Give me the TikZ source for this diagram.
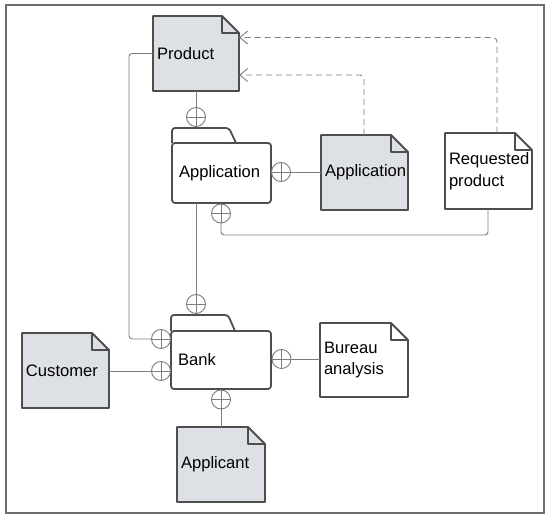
\documentclass[tikz,border=0pt]{standalone}
\usepackage{fontspec}
\setmainfont{Liberation Sans}
\usetikzlibrary{arrows.meta}
\pgfdeclarelayer{background}
\pgfsetlayers{background,main}
\definecolor{docfill}{RGB}{221,224,229}
\definecolor{edgecol}{RGB}{78,78,78}
\definecolor{conncol}{RGB}{125,125,125}
\definecolor{framecol}{RGB}{110,110,110}
\tikzset{
  docline/.style={draw=edgecol, line width=1.8pt, line join=round},
  doctext/.style={inner sep=4pt, outer sep=0pt, align=left, minimum height=75pt, font=\fontsize{16.6}{21.5}\selectfont},
  foldertext/.style={inner sep=7pt, outer sep=0pt, align=left, font=\fontsize{16.6}{21.5}\selectfont},
  port/.style={circle, draw=conncol, line width=0.9pt, minimum size=19pt, inner sep=0pt, outer sep=0pt, fill=white,
    path picture={\draw[conncol, line width=0.8pt] (path picture bounding box.north) -- (path picture bounding box.south)
      (path picture bounding box.west) -- (path picture bounding box.east);}},
  connline/.style={draw=conncol, line width=0.9pt, rounded corners=3pt},
  dashline/.style={draw=conncol, line width=0.9pt, dash pattern=on 6pt off 4pt, rounded corners=4pt,
    -{Straight Barb[length=8pt, width=13pt, line width=0.9pt]}},
}
\newcommand\docshape[2]{%
  \filldraw[docline, fill=#2] (#1.north west) -- ([xshift=-17pt]#1.north east) -- ([yshift=-17pt]#1.north east)
    -- (#1.south east) -- (#1.south west) -- cycle;
  \draw[docline] ([xshift=-17pt]#1.north east) |- ([yshift=-17pt]#1.north east);
}
\newcommand\foldershape[3]{% name, tab height, tab top width
  \filldraw[docline, fill=white, rounded corners=3pt] (#1.north west) -- ++(0,-#2) -- ++(#3,0) -- ++(7,#2);
  \filldraw[docline, fill=white, rounded corners=3pt] (#1.north west) rectangle (#1.south east);
}
\begin{document}
\begin{tikzpicture}[x=1pt, y=-1pt]
\useasboundingbox (0,0) rectangle (550,518);
\draw[framecol, line width=2.2pt] (6,5) rectangle (544,513);

% documents
\node[doctext, text width=78pt] (prod) at (196,53.5) {Product};
\node[doctext, text width=79pt] (appd) at (364.5,172.5) {Application};
\node[doctext, text width=79pt, minimum height=76pt] (req) at (488.5,171) {Requested\\product};
\node[doctext, text width=79pt] (cust) at (65.5,370.5) {Customer};
\node[doctext, text width=80pt, minimum height=74pt] (bur) at (364,360) {Bureau\\analysis};
\node[doctext, text width=80pt] (appl) at (221,464.5) {Applicant};

% folders
\node[foldertext, text width=85pt, minimum height=60pt] (app) at (221.5,173) {Application};
\node[foldertext, text width=86pt, minimum height=58pt] (bank) at (221,360) {Bank};

\begin{pgfonlayer}{background}
\docshape{prod}{docfill}
\docshape{appd}{docfill}
\docshape{req}{white}
\docshape{cust}{docfill}
\docshape{bur}{white}
\docshape{appl}{docfill}
\foldershape{app}{15}{57}
\foldershape{bank}{16}{57}
\end{pgfonlayer}

% ports
\node[port] (c1) at (196,117) {};
\node[port] (c2) at (281,172) {};
\node[port] (c3) at (221,213.5) {};
\node[port] (c4) at (196,304) {};
\node[port] (c5) at (161,339) {};
\node[port] (c6) at (161,371) {};
\node[port] (c7) at (281.5,359) {};
\node[port] (c8) at (221,399.5) {};

\coordinate (k5) at (129,0);
\coordinate (y235) at (0,235);
\coordinate (y75) at (0,75);
\coordinate (y37) at (0,37.5);

% connectors
\draw[connline] (c1.north |- prod.south) -- (c1.north);
\draw[connline] (c2.east) -- (c2.east -| appd.west);
\draw[connline] (c3.south) -- (c3 |- y235) -- ([xshift=-0.5pt]req.south |- y235) -- ([xshift=-0.5pt]req.south);
\draw[connline] (c4.north |- app.south) -- (c4.north);
\draw[connline] (prod.west) -- (prod.west -| k5) -- (k5 |- c5) -- (c5.west);
\draw[connline] (cust.east |- c6) -- (c6.west);
\draw[connline] (c7.east) -- (c7.east -| bur.west);
\draw[connline] (c8.south) -- (c8.south |- appl.north);

% dashed dependencies
\draw[dashline] ([xshift=-0.5pt]appd.north) -- ([xshift=-0.5pt]appd.north |- y75) -- (prod.east |- y75);
\draw[dashline] ([xshift=8.5pt]req.north) -- ([xshift=8.5pt]req.north |- y37) -- (prod.east |- y37);
\end{tikzpicture}
\end{document}
